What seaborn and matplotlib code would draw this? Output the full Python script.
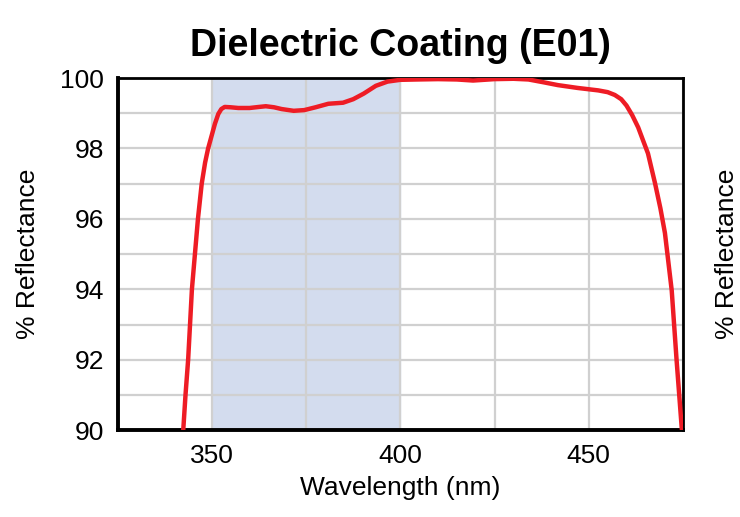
import numpy as np
import pandas as pd
import seaborn as sns
import matplotlib.pyplot as plt

# reflectance curve
wavelength = [342.4, 343.0, 343.7, 344.2, 344.7, 345.5, 346.3, 347.3, 348.2, 349.0,
              349.9, 350.8, 351.7, 352.5, 353.4, 355.0, 357.0, 360.0, 362.5, 364.3,
              366.5, 368.5, 371.7, 374.5, 377.5, 380.9, 384.8, 387.5, 390.3, 393.5,
              396.6, 400.0, 404.5, 410.0, 415.0, 419.3, 425.0, 430.0, 434.0, 438.0,
              441.8, 447.0, 452.5, 455.0, 456.9, 458.6, 460.0, 461.5, 463.1, 464.5,
              465.7, 467.6, 469.0, 470.2, 472.0, 473.3, 474.7]
reflectance = [90.0, 91.0, 92.0, 93.0, 94.0, 95.0, 96.0, 97.0, 97.6, 98.0,
               98.35, 98.7, 98.98, 99.12, 99.18, 99.17, 99.15, 99.15, 99.18, 99.2,
               99.17, 99.12, 99.07, 99.09, 99.17, 99.27, 99.3, 99.4, 99.56, 99.78,
               99.9, 99.95, 99.96, 99.97, 99.96, 99.93, 99.97, 99.98, 99.96, 99.88,
               99.8, 99.72, 99.65, 99.6, 99.52, 99.4, 99.22, 98.95, 98.6, 98.2,
               97.86, 97.0, 96.3, 95.6, 93.97, 91.98, 90.0]
band = (350, 400)
x_ticks = [350, 375, 400, 425, 450, 475]
x_labels = ['350', '', '400', '', '450', '']
y_ticks = [90, 91, 92, 93, 94, 95, 96, 97, 98, 99, 100]
y_labels = ['90', '', '92', '', '94', '', '96', '', '98', '', '100']

df = pd.DataFrame({'wavelength': wavelength, 'reflectance': reflectance})

sns.set_style('white')
plt.rcParams['font.family'] = ['Liberation Sans', 'DejaVu Sans']
plt.rcParams['text.color'] = 'black'
plt.rcParams['axes.labelcolor'] = 'black'

fig = plt.figure(figsize=(7.4, 5.17), dpi=100)
ax = fig.add_axes([0.159, 0.168, 0.764, 0.681])

ax.axvspan(band[0], band[1], color='#d3dcee', zorder=0)
sns.lineplot(data=df, x='wavelength', y='reflectance', color='#ee1c25',
             linewidth=3.2, ax=ax, zorder=3)
ax.lines[-1].set_solid_joinstyle('round')

ax.set_xlim(325, 475)
ax.set_ylim(90, 100)
ax.set_xticks(x_ticks)
ax.set_xticklabels(x_labels)
ax.set_yticks(y_ticks)
ax.set_yticklabels(y_labels)
ax.grid(True, color='#d0d0d0', linewidth=1.6, zorder=1)
ax.set_axisbelow(True)
ax.tick_params(direction='out', length=6, width=2.2, labelsize=19, colors='black', pad=4)

for side in ['left', 'bottom']:
    ax.spines[side].set_linewidth(2.8)
    ax.spines[side].set_color('black')
for side in ['top', 'right']:
    ax.spines[side].set_linewidth(2.0)
    ax.spines[side].set_color('black')

ax.set_xlabel('Wavelength (nm)', fontsize=19, labelpad=6)
ax.set_ylabel('% Reflectance', fontsize=19, labelpad=14)
ax.set_title('Dielectric Coating (E01)', fontsize=27, fontweight='bold', pad=16)
fig.text(0.983, 0.51, '% Reflectance', rotation=90, ha='center', va='center', fontsize=19)

fig.savefig('out.png', dpi=100)
